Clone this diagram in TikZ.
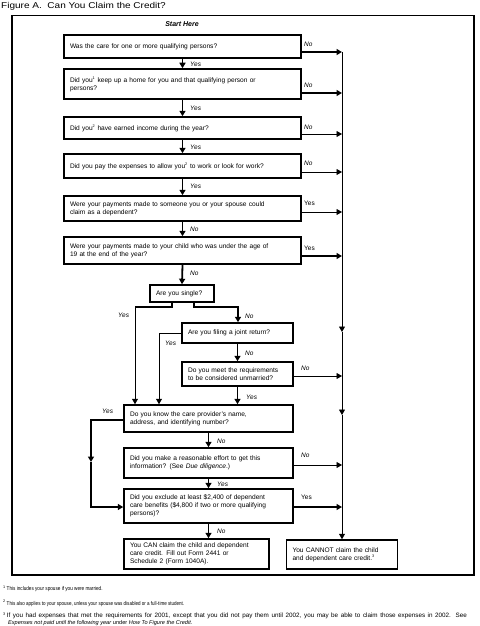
\documentclass[tikz,border=0pt]{standalone}
\usepackage{fontspec}
\usepackage{graphicx}
\setmainfont{Liberation Sans}
\usetikzlibrary{arrows.meta}
\newcommand{\fnsup}[1]{\textsuperscript{\fontsize{3.8}{4}\selectfont #1}}
\begin{document}
\begin{tikzpicture}[x=1pt,y=-1pt,
  box/.style={draw, line width=1.5pt, inner xsep=6pt, inner ysep=0pt, align=left, font=\fontsize{6.6}{8}\selectfont, anchor=center},
  tk/.style={line width=1.8pt, -{Triangle[length=5.5pt,width=6pt]}},
  tn/.style={line width=0.8pt, -{Triangle[length=5.5pt,width=6pt]}},
  tkl/.style={line width=1.8pt},
  tnl/.style={line width=0.8pt},
  lab/.style={font=\fontsize{6.5}{7}\selectfont\itshape, anchor=west, inner sep=0pt},
  labu/.style={font=\fontsize{6.5}{7}\selectfont, anchor=west, inner sep=0pt},
  foot/.style={font=\fontsize{5.6}{6.6}\selectfont, anchor=west, inner sep=0pt}]
\useasboundingbox (0,0) rectangle (479,626);
\node[anchor=west, inner sep=0pt, font=\fontsize{8.5}{9}\selectfont] (title) at (1,6.5) {\scalebox{1.18}[1]{Figure A.\ \ Can You Claim the Credit?}};
\draw[line width=1.2pt] (12,15.5) rectangle (474,575);
\node[font=\fontsize{7}{8}\selectfont\bfseries\itshape, inner sep=0pt] (start) at (182,24.5) {Start Here};
% main column
\node[box, minimum width=237pt, minimum height=23pt, text width=225pt] (b1) at (182.5,46.5) {Was the care for one or more qualifying persons?};
\node[box, minimum width=237pt, minimum height=30pt, text width=225pt] (b2) at (182.5,84) {Did you\fnsup{1} keep up a home for you and that qualifying person or\\persons?};
\node[box, minimum width=237pt, minimum height=22pt, text width=225pt] (b3) at (182.5,128) {Did you\fnsup{2} have earned income during the year?};
\node[box, minimum width=237pt, minimum height=24pt, text width=225pt] (b4) at (182.5,166) {Did you pay the expenses to allow you\fnsup{2} to work or look for work?};
\node[box, minimum width=237pt, minimum height=25pt, text width=225pt] (b5) at (182.5,208.5) {Were your payments made to someone you or your spouse could\\claim as a dependent?};
\node[box, minimum width=237pt, minimum height=27pt, text width=225pt] (b6) at (182.5,250.5) {Were your payments made to your child who was under the age of\\19 at the end of the year?};
\node[box, minimum width=64pt, minimum height=17pt, text width=52pt] (single) at (182,293.5) {Are you single?};
\node[box, minimum width=111pt, minimum height=20pt, text width=99pt] (joint) at (237.5,333) {Are you filing a joint return?};
\node[box, minimum width=111pt, minimum height=24pt, text width=99pt] (meet) at (237.5,374) {Do you meet the requirements\\to be considered unmarried?};
\node[box, minimum width=169pt, minimum height=27pt, text width=157pt] (know) at (208.5,418.5) {Do you know the care provider's name,\\address, and identifying number?};
\node[box, minimum width=169pt, minimum height=30pt, text width=157pt] (reason) at (208.5,463) {Did you make a reasonable effort to get this\\information? (See \textit{Due diligence}.)};
\node[box, minimum width=169pt, minimum height=34pt, text width=157pt] (excl) at (208.5,506) {Did you exclude at least \$2,400 of dependent\\care benefits (\$4,800 if two or more qualifying\\persons)?};
\node[box, minimum width=145pt, minimum height=30pt, text width=133pt] (can) at (196.5,554) {You CAN claim the child and dependent\\care credit. Fill out Form 2441 or\\Schedule 2 (Form 1040A).};
\node[box, minimum width=111pt, minimum height=29pt, text width=99pt] (cannot) at (342,554.5) {You CANNOT claim the child\\and dependent care credit.\fnsup{3}};
% main down arrows
\draw[tk] (b1.south) -- (b2.north);
\draw[tk] (b2.south) -- (b3.north);
\draw[tk] (b3.south) -- (b4.north);
\draw[tk] (b4.south) -- (b5.north);
\draw[tk] (b5.south) -- (b6.north);
\draw[tk] (b6.south) -- (single.north);
\node[lab] (l1) at (190,64) {Yes};
\node[lab] (l2) at (190,108) {Yes};
\node[lab] (l3) at (190,147) {Yes};
\node[lab] (l4) at (190,186) {Yes};
\node[lab] (l5) at (190,229) {No};
\node[lab] (l6) at (190,273) {No};
% right vertical line
\coordinate (r1) at (342,52);
\coordinate (r2) at (342,93);
\coordinate (r3) at (342,134);
\coordinate (r4) at (342,172);
\coordinate (r5) at (342,212);
\coordinate (r6) at (342,256);
\coordinate (rm1) at (342,332);
\coordinate (r7) at (342,376);
\coordinate (rm2) at (342,415);
\coordinate (r8) at (342,465);
\coordinate (r9) at (342,507);
\draw[tnl] (r1) -- (r6);
\draw[tn] (r6) -- (rm1);
\draw[tn] (rm1) -- (rm2);
\draw[tn] (rm2) -- (cannot.north);
\draw[tk] (b1.east |- r1) -- (r1);
\draw[tk] (b2.east |- r2) -- (r2);
\draw[tn] (b3.east |- r3) -- (r3);
\draw[tn] (b4.east |- r4) -- (r4);
\draw[tn] (b5.east |- r5) -- (r5);
\draw[tk] (b6.east |- r6) -- (r6);
\draw[tn] (meet.east |- r7) -- (r7);
\draw[tn] (reason.east |- r8) -- (r8);
\draw[tk] (excl.east |- r9) -- (r9);
\node[lab] (n1) at (304,44) {No};
\node[lab] (n2) at (304,85) {No};
\node[lab] (n3) at (304,127) {No};
\node[lab] (n4) at (304,163) {No};
\node[labu] (n5) at (304,203) {Yes};
\node[labu] (n6) at (304,248) {Yes};
\node[lab] (n7) at (301,368) {No};
\node[lab] (n8) at (301,455) {No};
\node[labu] (n9) at (301,497) {Yes};
% single branches
\coordinate (sL) at (172,307);
\coordinate (sLL) at (135,307);
\coordinate (sR) at (194,307);
\coordinate (sRR) at (238,307);
\draw[tkl] (single.south -| sL) -- (sL) -- (sLL);
\draw[tn] (sLL) -- (sLL |- know.north);
\draw[tk] (single.south -| sR) -- (sR) -- (sRR) -- (joint.north -| sRR);
\node[lab] (ys) at (118,315) {Yes};
\node[lab] (ns) at (245,316) {No};
% joint
\coordinate (jY) at (159,333);
\draw[tn] (joint.west) -- (jY) -- (jY |- know.north);
\node[lab] (yj) at (165,343) {Yes};
\draw[tk] (joint.south) -- (meet.north);
\node[lab] (nj) at (245,353) {No};
\draw[tk] (meet.south) -- (meet.south |- know.north);
\node[lab] (ym) at (246,397) {Yes};
% know
\coordinate (kl) at (91,420);
\coordinate (km) at (91,462);
\coordinate (kb) at (91,507);
\draw[tk] (know.west |- kl) -- (kl) -- (km);
\draw[tk] (km) -- (kb) -- (excl.west |- kb);
\node[lab] (yk) at (102,411) {Yes};
\draw[tk] (know.south) -- (reason.north);
\node[lab] (nk) at (217,441) {No};
\draw[tk] (reason.south) -- (excl.north);
\node[lab] (yr) at (217,484) {Yes};
\draw[tk] (excl.south) -- (excl.south |- can.north);
\node[lab] (ne) at (217,531) {No};
% footnotes
\node[foot] (f1) at (3,589) {\fnsup{1}\,\scalebox{0.83}[1]{This includes your spouse if you were married.}};
\node[foot] (f2) at (3,603) {\fnsup{2}\,\scalebox{0.81}[1]{This also applies to your spouse, unless your spouse was disabled or a full-time student.}};
\node[foot, font=\fontsize{6.3}{7}\selectfont] (f3) at (3,616) {\fnsup{3}\,\makebox[460pt][s]{If you had expenses that met the requirements for 2001, except that you did not pay them until 2002, you may be able to claim those expenses in 2002. See}};
\node[foot] (f4) at (8,623) {\textit{Expenses not paid until the following year} under \textit{How To Figure the Credit}.};
\end{tikzpicture}
\end{document}
